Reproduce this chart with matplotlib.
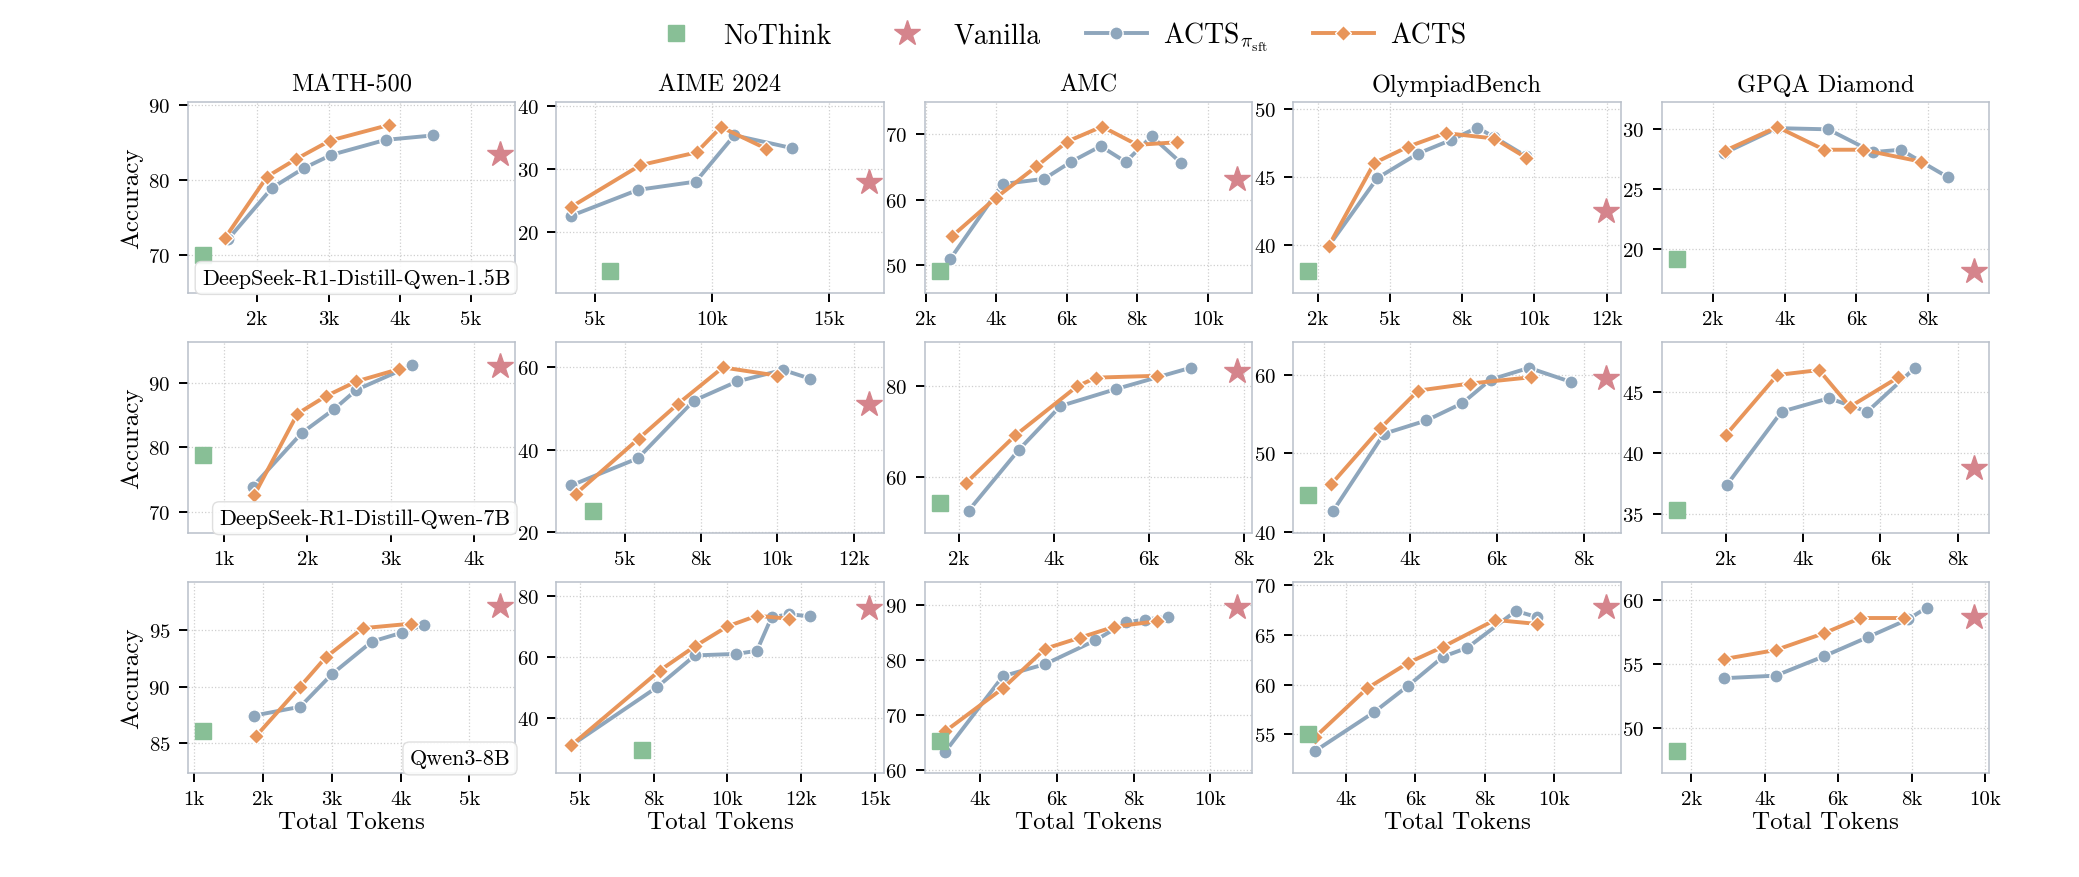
import numpy as np
import matplotlib
matplotlib.use("Agg")
import matplotlib.pyplot as plt
from matplotlib.lines import Line2D
from matplotlib.ticker import FuncFormatter

plt.rcParams['font.family'] = 'serif'
plt.rcParams['font.serif'] = ['cmr10', 'DejaVu Serif']
plt.rcParams['mathtext.fontset'] = 'cm'
plt.rcParams['axes.formatter.use_mathtext'] = True

benchmarks = ["MATH-500", "AIME 2024", "AMC", "OlympiadBench", "GPQA Diamond"]
models = ["DeepSeek-R1-Distill-Qwen-1.5B", "DeepSeek-R1-Distill-Qwen-7B", "Qwen3-8B"]

# ---- DeepSeek-R1-Distill-Qwen-1.5B ----
r15_sft_x = [[1590, 2210, 2650, 3040, 3800, 4470],
             [3970, 6840, 9310, 10960, 13410],
             [2690, 4180, 5360, 6120, 6960, 7670, 8410, 9250],
             [2870, 4560, 5970, 7120, 8020, 8610, 9710],
             [2300, 3790, 5210, 6460, 7240, 7810, 8560]]
r15_sft_y = [[72.1, 79.0, 81.6, 83.4, 85.4, 86.0],
             [22.6, 26.7, 28.0, 35.3, 33.3],
             [50.9, 62.4, 63.2, 65.8, 68.2, 65.8, 69.7, 65.6],
             [39.9, 44.9, 46.7, 47.7, 48.6, 47.9, 46.5],
             [28.0, 30.1, 30.0, 28.1, 28.3, 27.3, 26.0]]
r15_acts_x = [[1550, 2140, 2540, 3020, 3850],
              [3970, 6940, 9340, 10390, 12320],
              [2740, 3990, 5140, 6010, 7000, 8000, 9130],
              [2870, 4450, 5620, 6920, 8610, 9710],
              [2320, 3790, 5100, 6170, 7810]]
r15_acts_y = [[72.3, 80.5, 82.8, 85.3, 87.4],
              [24.0, 30.6, 32.6, 36.6, 33.2],
              [54.4, 60.3, 65.1, 68.9, 71.2, 68.4, 68.8],
              [39.9, 46.0, 47.2, 48.2, 47.8, 46.4],
              [28.2, 30.2, 28.3, 28.3, 27.3]]
r15_nothink = [(1235, 70.0), (5645, 13.9), (2390, 49.1), (2160, 38.1), (980, 19.2)]
r15_vanilla = [(5410, 83.5), (16720, 27.9), (10840, 63.2), (12470, 42.5), (9290, 18.2)]

# ---- DeepSeek-R1-Distill-Qwen-7B ----
r7_sft_x = [[1340, 1930, 2320, 2590, 3260],
            [3230, 5420, 7250, 8680, 10180, 11060],
            [2200, 3260, 4140, 5310, 6900],
            [2220, 3390, 4370, 5200, 5850, 6740, 7710],
            [2020, 3440, 4670, 5660, 6900]]
r7_sft_y = [[73.9, 82.2, 85.9, 88.9, 92.7],
            [31.3, 37.9, 51.9, 56.6, 59.4, 57.3],
            [52.7, 66.0, 75.6, 79.3, 84.0],
            [42.7, 52.5, 54.2, 56.4, 59.4, 60.9, 59.1],
            [37.4, 43.4, 44.5, 43.4, 47.0]]
r7_acts_x = [[1360, 1880, 2220, 2590, 3100],
             [3390, 5450, 6730, 8210, 10000],
             [2150, 3190, 4490, 4890, 6170],
             [2180, 3310, 4180, 5370, 6780],
             [2000, 3330, 4410, 5210, 6460]]
r7_acts_y = [[72.6, 85.2, 87.9, 90.2, 92.1],
             [29.3, 42.7, 51.1, 60.0, 58.0],
             [58.8, 69.2, 79.9, 81.8, 82.2],
             [46.1, 53.2, 58.0, 58.9, 59.7],
             [41.5, 46.4, 46.8, 43.8, 46.2]]
r7_nothink = [(740, 78.8), (3960, 25.2), (1590, 54.4), (1640, 44.7), (720, 35.4)]
r7_vanilla = [(4320, 92.6), (13000, 51.1), (7870, 83.3), (8510, 59.6), (8430, 38.8)]

# ---- Qwen3-8B ----
q8_sft_x = [[1860, 2540, 3000, 3580, 4020, 4340],
            [4700, 7600, 8900, 10300, 11000, 11500, 12100, 12800],
            [3100, 4600, 5700, 7000, 7800, 8300, 8900],
            [3100, 4800, 5800, 6800, 7500, 8900, 9500],
            [2900, 4300, 5600, 6800, 7900, 8400]]
q8_sft_y = [[87.4, 88.2, 91.1, 94.0, 94.8, 95.5],
            [31.0, 50.0, 60.5, 61.0, 62.0, 73.0, 74.0, 73.3],
            [63.3, 77.0, 79.2, 83.5, 86.8, 87.3, 87.8],
            [53.3, 57.2, 59.9, 62.8, 63.7, 67.4, 66.8],
            [53.9, 54.1, 55.6, 57.1, 58.5, 59.4]]
q8_acts_x = [[1900, 2540, 2910, 3450, 4150],
             [4700, 7700, 8900, 10000, 11000, 12100],
             [3100, 4600, 5700, 6600, 7500, 8600],
             [3100, 4600, 5800, 6800, 8300, 9500],
             [2900, 4300, 5600, 6600, 7800]]
q8_acts_y = [[85.6, 90.0, 92.6, 95.2, 95.6],
             [31.0, 55.5, 63.5, 70.0, 73.5, 72.5],
             [67.0, 74.8, 82.0, 84.0, 86.0, 87.0],
             [54.7, 59.6, 62.2, 63.8, 66.5, 66.1],
             [55.4, 56.1, 57.4, 58.6, 58.6]]
q8_nothink = [(1120, 86.0), (7100, 29.5), (2950, 65.2), (2900, 55.0), (1600, 48.2)]
q8_vanilla = [(5450, 97.2), (14800, 76.0), (10700, 89.5), (11500, 67.8), (9700, 58.7)]

sft_x = [r15_sft_x, r7_sft_x, q8_sft_x]
sft_y = [r15_sft_y, r7_sft_y, q8_sft_y]
acts_x = [r15_acts_x, r7_acts_x, q8_acts_x]
acts_y = [r15_acts_y, r7_acts_y, q8_acts_y]
nothink = [r15_nothink, r7_nothink, q8_nothink]
vanilla = [r15_vanilla, r7_vanilla, q8_vanilla]

xticks = [[[2000, 3000, 4000, 5000], [5000, 10000, 15000], [2000, 4000, 6000, 8000, 10000],
           [2500, 5000, 7500, 10000, 12500], [2000, 4000, 6000, 8000]],
          [[1000, 2000, 3000, 4000], [5000, 7500, 10000, 12500], [2000, 4000, 6000, 8000],
           [2000, 4000, 6000, 8000], [2000, 4000, 6000, 8000]],
          [[1000, 2000, 3000, 4000, 5000], [5000, 7500, 10000, 12500, 15000], [4000, 6000, 8000, 10000],
           [4000, 6000, 8000, 10000], [2000, 4000, 6000, 8000, 10000]]]
yticks = [[[70, 80, 90], [20, 30, 40], [50, 60, 70], [40, 45, 50], [20, 25, 30]],
          [[70, 80, 90], [20, 40, 60], [60, 80], [40, 50, 60], [35, 40, 45]],
          [[85, 90, 95], [40, 60, 80], [60, 70, 80, 90], [55, 60, 65, 70], [50, 55, 60]]]
ylims = [[(65.0, 90.5), (10.5, 40.6), (45.8, 75.0), (36.5, 50.5), (16.4, 32.3)],
         [(66.8, 96.3), (19.8, 66.2), (47.9, 89.6), (39.9, 64.2), (33.5, 49.1)],
         [(82.3, 99.3), (22.0, 84.5), (59.4, 94.1), (51.1, 70.3), (46.5, 61.4)]]

c_sft = '#8EA6BC'
c_acts = '#E8955A'
c_no = '#88BF96'
c_van = '#D5848C'

fig, axes = plt.subplots(3, 5, figsize=(20.79, 8.78), dpi=100)
fig.subplots_adjust(left=0.0903, right=0.9568, top=0.883, bottom=0.1185,
                    wspace=0.125, hspace=0.259)

kfmt = FuncFormatter(lambda v, _: f"{v/1000:.0f}k")

for r in range(3):
    for c in range(5):
        ax = axes[r, c]
        ax.grid(True, linestyle=':', color='#cfcfcf', linewidth=0.9)
        ax.set_axisbelow(True)
        ax.plot(sft_x[r][c], sft_y[r][c], color=c_sft, lw=2.8, marker='o', ms=9.5,
                mec='white', mew=1.0, zorder=3)
        ax.plot(acts_x[r][c], acts_y[r][c], color=c_acts, lw=2.8, marker='D', ms=8,
                mec='white', mew=1.0, zorder=4)
        ax.plot(*nothink[r][c], ls='none', marker='s', ms=12, color=c_no, zorder=5)
        ax.plot(*vanilla[r][c], ls='none', marker='*', ms=19, color=c_van, zorder=5)
        ax.margins(x=0.05)
        ax.set_xticks(xticks[r][c])
        ax.xaxis.set_major_formatter(kfmt)
        ax.set_yticks(yticks[r][c])
        ax.set_ylim(*ylims[r][c])
        ax.tick_params(axis='both', labelsize=15, length=6.5, width=1.4, color='black',
                       direction='out', pad=6)
        for sp in ax.spines.values():
            sp.set_color('#b9c0ca')
            sp.set_linewidth(1.1)
        if r == 0:
            ax.set_title(benchmarks[c], fontsize=17.5, pad=8)
        if r == 2:
            ax.set_xlabel("Total Tokens", fontsize=18, labelpad=2)
        if c == 0:
            ax.set_ylabel("Accuracy", fontsize=18, labelpad=4)
            ax.text(0.985, 0.025, models[r], transform=ax.transAxes, ha='right', va='bottom',
                    fontsize=16, zorder=6,
                    bbox=dict(boxstyle='round,pad=0.3', fc='white', ec='#dcdcdc', alpha=0.9))

handles = [Line2D([], [], ls='none', marker='s', ms=12, color=c_no),
           Line2D([], [], ls='none', marker='*', ms=19, color=c_van),
           Line2D([], [], color=c_sft, lw=2.8, marker='o', ms=9.5, mec='white', mew=1.0),
           Line2D([], [], color=c_acts, lw=2.8, marker='D', ms=8, mec='white', mew=1.0)]
labels = ["NoThink", "Vanilla", r"ACTS$_{\pi_{\mathrm{sft}}}$", "ACTS"]
fig.legend(handles, labels, loc='upper center', bbox_to_anchor=(0.508, 1.005), ncol=4,
           frameon=False, fontsize=20, handlelength=2.2, columnspacing=1.6, handletextpad=0.6)

fig.savefig("out.png", dpi=100)
